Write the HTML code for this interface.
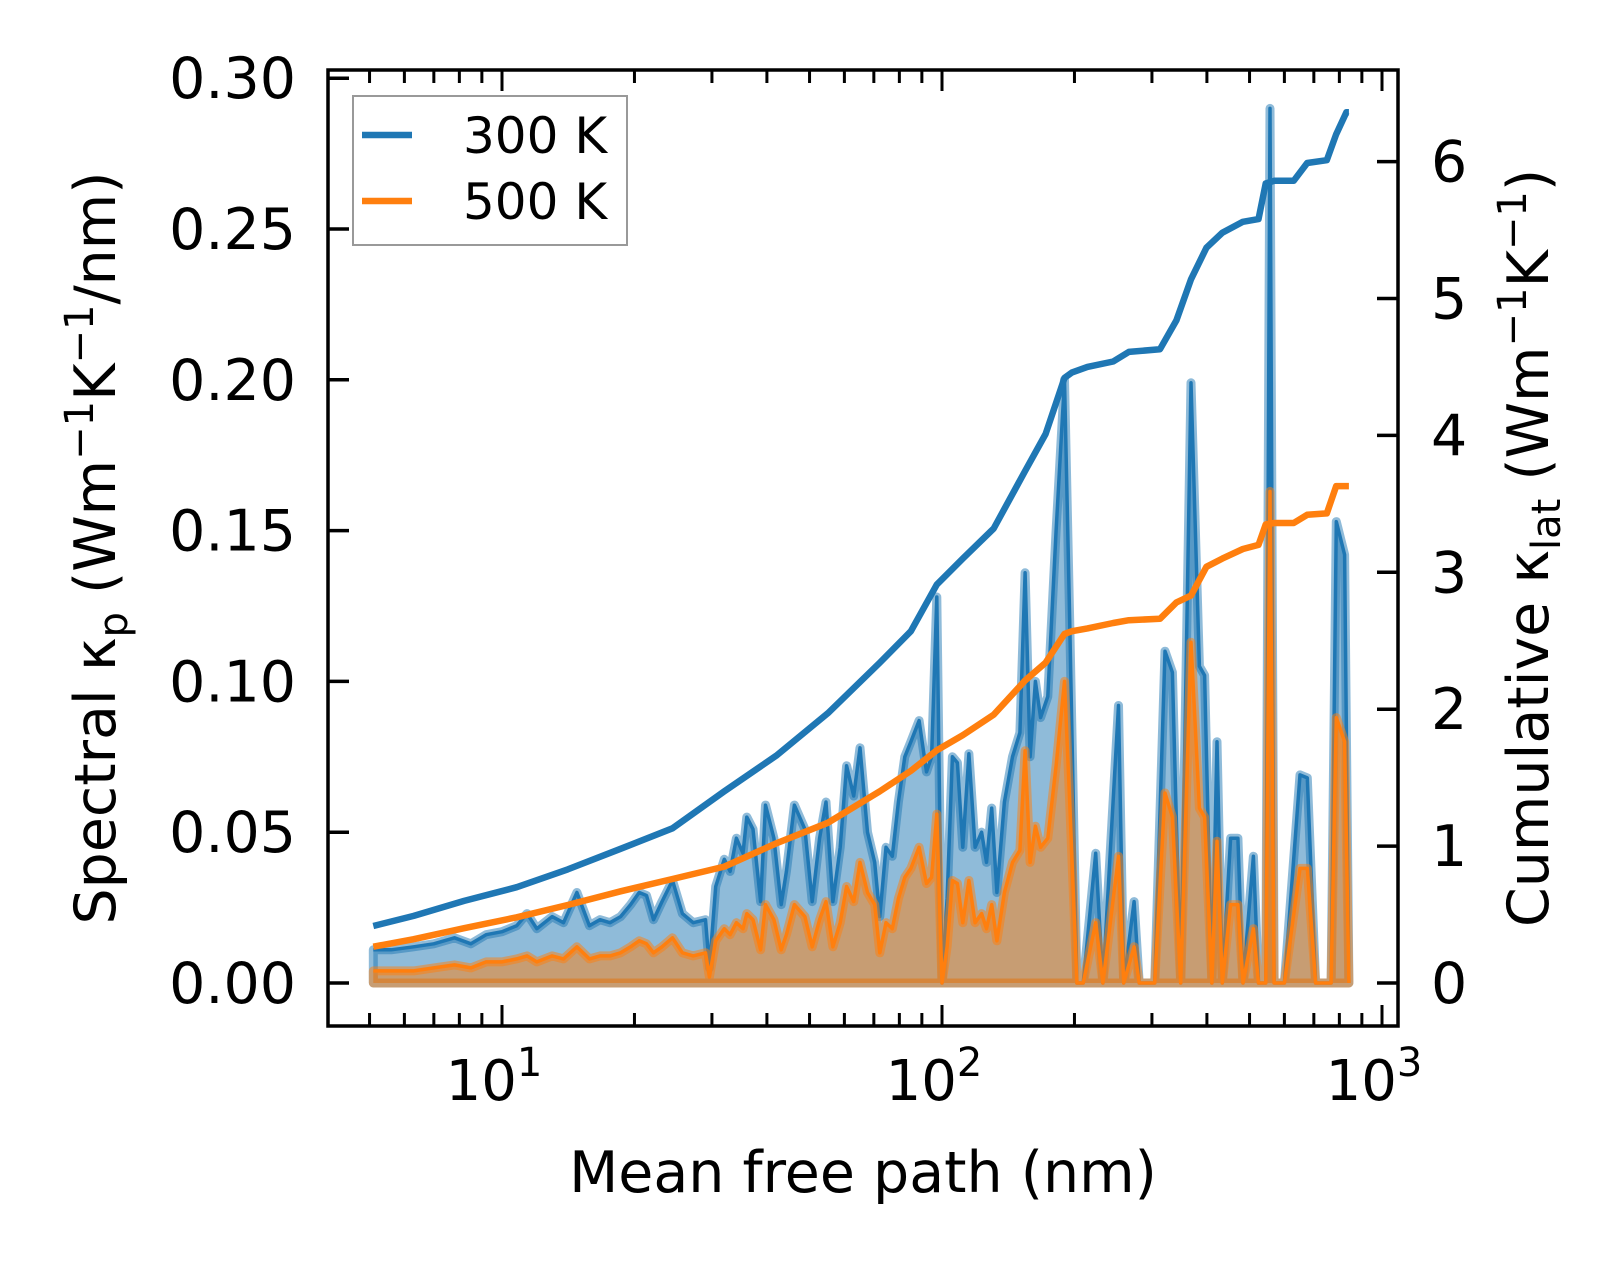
<!DOCTYPE html>
<html><head><meta charset="utf-8"><style>
body{margin:0;background:#fff}
svg text{font-family:"DejaVu Sans","Liberation Sans",sans-serif;fill:#000}
</style></head><body>
<svg id="chart" width="1623" height="1264" xmlns="http://www.w3.org/2000/svg">
<rect width="1623" height="1264" fill="#fff"/>
<g id="plot"></g>
</svg>
<script>
const mfp=[5.1,5.6,6.3,7.0,7.8,8.5,9.2,10,10.8,11.4,12,13,13.8,14.8,15.8,16.7,17.6,18.6,19.6,20.5,21.3,22.1,23.1,24.4,25.7,27.2,29.0,29.6,30.6,32.0,33.0,34.1,35.3,36.0,37.2,38.7,39.7,41.5,43.1,44.3,46.2,48.8,50.7,52.7,54.5,56.5,58.7,60.7,63.0,65.1,67.7,70.3,72.2,74.6,77.1,79.6,82.3,85.0,88.7,92.2,94.7,97.3,100,102.7,105.6,108.4,111.5,115.1,118.9,123.0,126.2,129.7,133.3,138.6,144.6,150.3,154.5,158.6,163.0,167.5,174.0,181.7,189.8,195.1,202.6,209.4,223.5,232.1,251.9,258.8,273.2,280.7,304.3,321.2,334,348.7,368,384.6,395.1,410.5,421.8,433.5,452.7,470.4,483.1,510.3,524,544.3,556.5,568.6,600,651.2,676.3,706.5,766.2,787.4,822.4,841];
const spec300=[.011,.011,.012,.013,.015,.013,.016,.017,.019,.023,.018,.022,.020,.030,.019,.021,.020,.022,.026,.030,.029,.021,.027,.034,.023,.020,.021,.005,.032,.041,.037,.048,.043,.055,.051,.027,.059,.048,.026,.037,.059,.051,.027,.048,.060,.027,.045,.072,.062,.078,.050,.040,.022,.045,.042,.060,.075,.080,.087,.070,.075,.128,0,.028,.075,.073,.045,.076,.045,.050,.040,.058,.030,.060,.075,.083,.136,.075,.100,.088,.095,.150,.200,.120,0,0,.043,0,.092,0,.027,0,0,.110,.103,0,.199,.105,.102,0,.080,0,.048,.048,0,.042,0,0,.290,0,0,.069,.068,0,0,.153,.142,0];
const spec500=[.004,.004,.004,.005,.006,.005,.007,.007,.008,.009,.007,.009,.008,.012,.008,.009,.009,.010,.012,.014,.013,.010,.012,.015,.010,.009,.010,.002,.014,.018,.016,.020,.018,.023,.021,.011,.026,.021,.011,.016,.026,.022,.012,.021,.027,.012,.020,.032,.027,.040,.030,.026,.010,.020,.018,.028,.035,.038,.045,.033,.035,.056,0,.012,.034,.033,.020,.034,.020,.023,.018,.026,.014,.030,.040,.044,.077,.040,.052,.045,.048,.072,.100,.060,0,0,.020,0,.042,0,.012,0,0,.063,.055,0,.113,.058,.055,0,.047,0,.026,.026,0,.018,0,0,.163,0,0,.038,.038,0,0,.088,.080,0];
const cumX=[5.1,6.3,8.2,10.8,14.1,18.6,24.4,32.0,42.0,55.0,72.2,85.0,97.3,111.5,131.1,154.5,172.0,189.8,197.6,214,245,266,313,341,368,399,433.5,483,524,544,569,630,676,749,787,830,841];
const cum300=[.416,.49,.60,.70,.83,.98,1.13,1.40,1.66,1.97,2.34,2.57,2.91,3.10,3.32,3.74,4.01,4.42,4.46,4.50,4.54,4.61,4.63,4.84,5.14,5.37,5.48,5.56,5.58,5.84,5.86,5.86,5.99,6.01,6.20,6.36,6.36];
const cum500=[.265,.32,.40,.48,.57,.67,.76,.85,1.02,1.17,1.40,1.55,1.70,1.81,1.96,2.21,2.34,2.55,2.57,2.59,2.63,2.65,2.66,2.78,2.83,3.04,3.10,3.17,3.20,3.35,3.36,3.36,3.42,3.43,3.63,3.63,3.63];
const leftTicks=[0,0.05,0.10,0.15,0.20,0.25,0.30];
const leftTickLabels=["0.00","0.05","0.10","0.15","0.20","0.25","0.30"];
const rightTicks=[0,1,2,3,4,5,6];
const xMajor=[10,100,1000];
const xMajorExp=["1","2","3"];

const L=328,R=1398,T=70,B=1026;
const X=v=>502+(Math.log10(v)-1)*440;
const YL=v=>983-v/0.05*150.8;
const YR=v=>983-v*136.9;
const NS="http://www.w3.org/2000/svg";
const g=document.getElementById('plot');
function mk(tag,attrs,parent){const e=document.createElementNS(NS,tag);for(const k in attrs)e.setAttribute(k,attrs[k]);(parent||g).appendChild(e);return e;}

function fillPath(vals){let d='M'+X(mfp[0])+','+YL(0);mfp.forEach((m,i)=>{d+='L'+X(m).toFixed(1)+','+YL(vals[i]).toFixed(1);});d+='L'+X(mfp[mfp.length-1])+','+YL(0)+'Z';return d;}
function linePath(xs,vals,yf){return xs.map((m,i)=>(i?'L':'M')+X(m).toFixed(1)+','+yf(vals[i]).toFixed(1)).join('');}

let e;
e=mk('path',{d:fillPath(spec300),fill:'#1f77b4','fill-opacity':0.5,stroke:'#1f77b4','stroke-opacity':0.5,'stroke-width':9,'stroke-linejoin':'round'});


e=mk('path',{d:linePath(mfp,spec300,YL),fill:'none',stroke:'#1f77b4','stroke-width':3.5,'stroke-linejoin':'round'});


e=mk('path',{d:fillPath(spec500),fill:'#ff7f0e','fill-opacity':0.5,stroke:'#ff7f0e','stroke-opacity':0.5,'stroke-width':9,'stroke-linejoin':'round'});


e=mk('path',{d:linePath(mfp,spec500,YL),fill:'none',stroke:'#ff7f0e','stroke-width':3.5,'stroke-linejoin':'round'});


e=mk('path',{d:linePath(cumX,cum300,YR),fill:'none',stroke:'#1f77b4','stroke-width':6.5,'stroke-linejoin':'round'});


e=mk('path',{d:linePath(cumX,cum500,YR),fill:'none',stroke:'#ff7f0e','stroke-width':6.5,'stroke-linejoin':'round'});



e=mk('rect',{x:L,y:T,width:R-L,height:B-T,fill:'none',stroke:'#000','stroke-width':3.5});



leftTicks.forEach((v,i)=>{const y=YL(v);
 e=mk('line',{x1:L,x2:L+21,y1:y,y2:y,stroke:'#000','stroke-width':3.5});
 
 
 e=mk('text',{x:L-32,y:y+20,'font-size':57,'text-anchor':'end'});e.textContent=leftTickLabels[i];
 
 
});
rightTicks.forEach(v=>{const y=YR(v);
 e=mk('line',{x1:R-21,x2:R,y1:y,y2:y,stroke:'#000','stroke-width':3.5});
 
 
 e=mk('text',{x:R+33,y:y+20,'font-size':57});e.textContent=String(v);
 
 
});
for(let dec=1;dec<=1000;dec*=10){for(let k=1;k<10;k++){const v=dec*k;const x=X(v);if(x<L||x>R)continue;const len=k===1?21:13;
 e=mk('line',{x1:x,x2:x,y1:B,y2:B-len,stroke:'#000','stroke-width':3});
 
 
 e=mk('line',{x1:x,x2:x,y1:T,y2:T+len,stroke:'#000','stroke-width':3});
 
 
}}
xMajor.forEach((v,i)=>{const x=X(v);
 e=mk('text',{x:x-8,y:1100,'font-size':56,'text-anchor':'middle'});
 e.innerHTML='10<tspan font-size="40" dy="-24">'+xMajorExp[i]+'</tspan>';
 
 
});
</script>
<svg style="position:absolute;left:0;top:0" width="1623" height="1264">
<g>
<rect x="353" y="96" width="274" height="149" fill="#fff" fill-opacity="0.8" stroke="#999" stroke-width="2"/>
<line x1="362" x2="412" y1="135" y2="135" stroke="#1f77b4" stroke-width="6.5"/>
<text x="463" y="153" font-size="50" font-family="DejaVu Sans, Liberation Sans, sans-serif">300 K</text>
<line x1="362" x2="412" y1="201" y2="201" stroke="#ff7f0e" stroke-width="6.5"/>
<text x="463" y="219" font-size="50" font-family="DejaVu Sans, Liberation Sans, sans-serif">500 K</text>
</g>
<text x="863" y="1192" font-size="57" text-anchor="middle" font-family="DejaVu Sans, Liberation Sans, sans-serif">Mean free path (nm)</text>
<text transform="translate(115,548) rotate(-90)" font-size="57" text-anchor="middle" font-family="DejaVu Sans, Liberation Sans, sans-serif">Spectral κ<tspan font-size="40" dy="12">p</tspan><tspan dy="-12"> (Wm</tspan><tspan font-size="40" dy="-22">−1</tspan><tspan dy="22">K</tspan><tspan font-size="40" dy="-22">−1</tspan><tspan dy="22">/nm)</tspan></text>
<text transform="translate(1548,548) rotate(-90)" font-size="57" text-anchor="middle" font-family="DejaVu Sans, Liberation Sans, sans-serif">Cumulative κ<tspan font-size="40" dy="12">lat</tspan><tspan dy="-12"> (Wm</tspan><tspan font-size="40" dy="-22">−1</tspan><tspan dy="22">K</tspan><tspan font-size="40" dy="-22">−1</tspan><tspan dy="22">)</tspan></text>
</svg>
</body></html>
